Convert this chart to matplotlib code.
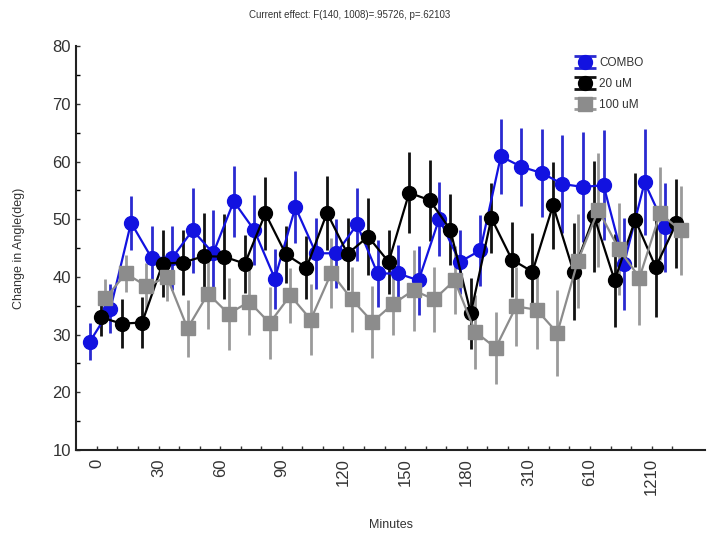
import matplotlib
matplotlib.use("Agg")
import matplotlib.pyplot as plt
import numpy as np

plt.rcParams['font.family'] = ['Liberation Sans', 'DejaVu Sans']

# tick labels (every third category carries a label)
tick_labels = ["0", "30", "60", "90", "120", "150", "180", "310", "610", "1210"]
n_cat = 29

combo_mean = [28.8, 34.5, 49.4, 43.3, 43.3, 48.1, 44.1, 53.1, 48.1, 39.7,
              52.1, 44.1, 44.1, 49.1, 40.6, 40.6, 39.4, 50.1, 42.6, 44.6,
              60.9, 59.1, 58.0, 56.1, 55.6, 55.9, 42.3, 56.4, 48.6]
combo_err = [3.2, 4.2, 4.7, 5.5, 5.5, 7.4, 7.5, 6.1, 6.1, 5.2,
             6.3, 6.2, 6.0, 6.4, 5.8, 5.0, 6.0, 6.4, 5.5, 6.2,
             6.5, 6.8, 7.6, 8.5, 9.6, 9.5, 8.0, 9.2, 7.7]

um20_mean = [33.0, 31.9, 32.1, 42.3, 42.5, 43.6, 43.5, 42.3, 51.0, 43.9,
             41.6, 51.1, 44.0, 47.0, 42.6, 54.6, 53.3, 48.2, 33.7, 50.2,
             43.0, 40.9, 52.4, 40.9, 50.5, 39.4, 49.9, 41.7, 49.3]
um20_err = [3.3, 4.3, 4.5, 5.8, 5.7, 7.5, 7.4, 5.0, 6.4, 5.0,
            5.5, 6.4, 6.2, 6.6, 5.5, 7.0, 7.0, 6.1, 6.2, 6.1,
            6.5, 6.8, 7.6, 8.4, 9.6, 8.0, 8.2, 8.7, 7.7]

um100_mean = [36.3, 40.6, 38.4, 40.0, 31.1, 37.1, 33.6, 35.7, 32.0, 36.8,
              32.6, 40.7, 36.1, 32.2, 35.3, 37.7, 36.1, 39.4, 30.5, 27.7,
              34.9, 34.3, 30.3, 42.8, 51.6, 44.8, 39.9, 51.0, 48.1]
um100_err = [3.4, 3.2, 4.0, 4.2, 4.9, 6.2, 6.2, 5.8, 6.3, 4.8,
             6.2, 6.0, 5.6, 6.2, 5.4, 7.0, 5.7, 5.9, 6.4, 6.2,
             6.8, 6.8, 7.5, 8.1, 9.8, 8.0, 8.3, 8.0, 7.7]

fig = plt.figure(figsize=(7.1, 5.37), dpi=100)
ax = fig.add_axes([0.107, 0.162, 0.886, 0.752])

x = np.arange(n_cat)
series = [
    ("COMBO", combo_mean, combo_err, -0.34, "o", "#1212e0", "#2a2ad0"),
    ("20 uM", um20_mean, um20_err, 0.20, "o", "#000000", "#111111"),
    ("100 uM", um100_mean, um100_err, 0.41, "s", "#8c8c8c", "#9a9a9a"),
]
handles = []
for name, mean, err, off, mk, col, ecol in series:
    ms = 10 if mk == "o" else 9.5
    ax.errorbar(x + off, mean, yerr=err, fmt=mk + "-", color=col, ecolor=ecol,
                elinewidth=2.0, capsize=0, lw=1.6, ms=ms, mec=col, mfc=col)
    # legend symbol with whisker caps, as in the original
    h = ax.errorbar([np.nan], [np.nan], yerr=[1], fmt=mk, color=col,
                    ecolor=ecol, elinewidth=2.0, capsize=8, capthick=2,
                    ms=ms, mec=col, mfc=col, label=name)
    handles.append(h)

ax.set_xlim(-1.02, 29.6)
ax.set_ylim(10, 80)
ax.set_yticks(np.arange(10, 81, 10))
ax.set_yticks(np.arange(15, 80, 10), minor=True)
ax.set_xticks(x)
ax.set_xticklabels([tick_labels[i // 3] if i % 3 == 0 else "" for i in x],
                   rotation=90)
ax.tick_params(axis="both", direction="in", length=3, width=1, labelsize=12,
               colors="#333333", labelcolor="#333333")
ax.tick_params(axis="y", which="minor", direction="in", length=3, width=1)
ax.tick_params(axis="x", pad=6)
for s in ["top", "right"]:
    ax.spines[s].set_visible(False)
for s in ["left", "bottom"]:
    ax.spines[s].set_linewidth(1.5)
    ax.spines[s].set_color("#222222")

ax.set_ylabel("Change in Angle(deg)", fontsize=9, color="#333333", labelpad=20)
ax.set_xlabel("Minutes", fontsize=9, color="#333333", labelpad=17)
fig.text(0.493, 0.972, "Current effect: F(140, 1008)=.95726, p=.62103",
         ha="center", va="center", fontsize=7, color="#333333")

leg = ax.legend(handles=handles, loc="upper left",
                bbox_to_anchor=(0.79, 0.985), frameon=False,
                fontsize=8.5, handlelength=1.3, handletextpad=0.5,
                labelspacing=0.75, borderaxespad=0)
for t in leg.get_texts():
    t.set_color("#333333")

fig.savefig("out.png", dpi=100)
